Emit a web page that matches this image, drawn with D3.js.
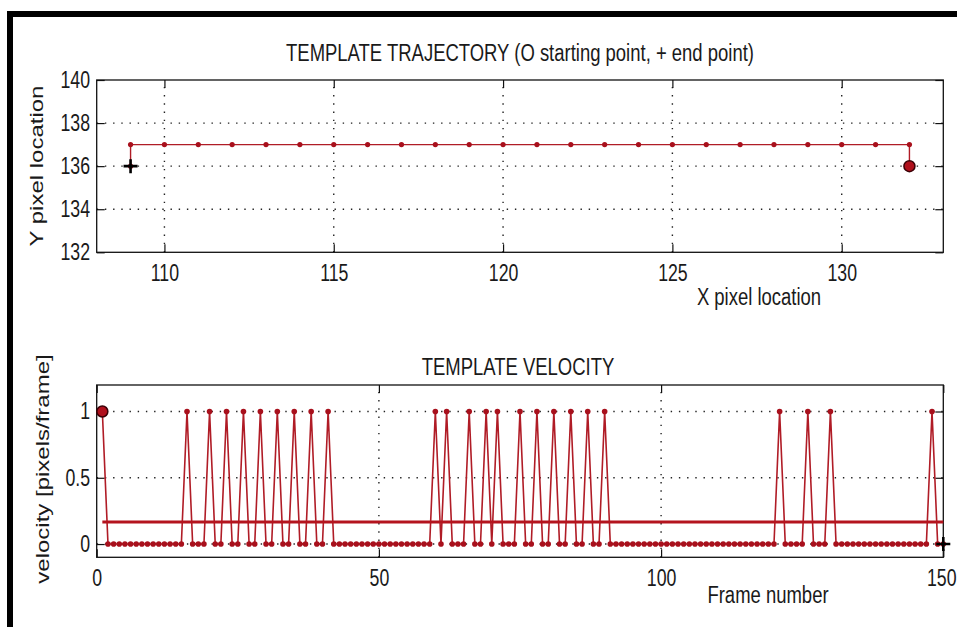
<!DOCTYPE html>
<html>
<head>
<meta charset="utf-8">
<script src="https://cdn.jsdelivr.net/npm/d3@7"></script>
<style>
  body { margin: 0; background: #fff; }
  text { font-family: "Liberation Sans", Arial, sans-serif; fill: #1a1a1a; }
</style>
</head>
<body>
<div id="container"></div>
<script>
// trajectory in pixel coords (starts at the right, ends at the left)
const trajX = [132, 132, 131, 130, 129, 128, 127, 126, 125, 124, 123, 122, 121,
               120, 119, 118, 117, 116, 115, 114, 113, 112, 111, 110, 109, 109]
const trajY = [136, 137, 137, 137, 137, 137, 137, 137, 137, 137, 137, 137, 137,
               137, 137, 137, 137, 137, 137, 137, 137, 137, 137, 137, 137, 136]
const trajXTicks = [110, 115, 120, 125, 130]
const trajYTicks = [132, 134, 136, 138, 140]

// velocity per frame, frames 1..150
const velocity = [
  1, 0, 0, 0, 0, 0, 0, 0, 0, 0,
  0, 0, 0, 0, 0, 1, 0, 0, 0, 1,
  0, 0, 1, 0, 0, 1, 0, 0, 1, 0,
  0, 1, 0, 0, 1, 0, 0, 1, 0, 0,
  1, 0, 0, 0, 0, 0, 0, 0, 0, 0,
  0, 0, 0, 0, 0, 0, 0, 0, 0, 1,
  0, 1, 0, 0, 0, 1, 0, 0, 1, 0,
  1, 0, 0, 0, 1, 0, 0, 1, 0, 0,
  1, 0, 0, 1, 0, 0, 1, 0, 0, 1,
  0, 0, 0, 0, 0, 0, 0, 0, 0, 0,
  0, 0, 0, 0, 0, 0, 0, 0, 0, 0,
  0, 0, 0, 0, 0, 0, 0, 0, 0, 0,
  1, 0, 0, 0, 0, 1, 0, 0, 0, 1,
  0, 0, 0, 0, 0, 0, 0, 0, 0, 0,
  0, 0, 0, 0, 0, 0, 0, 1, 0, 0
]
const velXTicks = [0, 50, 100, 150]
const velYTicks = [0, 0.5, 1]

const width = 957, height = 627
const squeeze = 0.77   // the original figure's text is narrow
const lineColor = "#b01c26", dotColor = "#a8101c"

const svg = d3.select("div#container").append("svg")
    .attr("width", width)
    .attr("height", height)

svg.append("rect").attr("width", width).attr("height", height).attr("fill", "#fff")

// black frame of the screenshot
svg.append("rect").attr("x", 7).attr("y", 11).attr("width", width - 7).attr("height", 6).attr("fill", "#000")
svg.append("rect").attr("x", 7).attr("y", 11).attr("width", 6).attr("height", height - 11).attr("fill", "#000")

function label(x, y, str, size, rotate) {
    svg.append("text")
        .attr("transform", rotate
            ? `translate(${x},${y}) rotate(-90) scale(1,${squeeze})`
            : `translate(${x},${y}) scale(${squeeze},1)`)
        .attr("text-anchor", "middle")
        .style("font-size", size + "px")
        .text(str)
}

function panel(x, y, xTicks, yTicks, yFormat) {
    const g = svg.append("g")
    const [x0, x1] = x.range(), [y0, y1] = y.range()

    // dotted grid on inner ticks
    g.selectAll(".gx").data(xTicks.filter(d => d > x.domain()[0] && d < x.domain()[1]))
        .join("line")
        .attr("x1", x).attr("x2", x).attr("y1", y0).attr("y2", y1)
    g.selectAll(".gy").data(yTicks.filter(d => d > y.domain()[0] && d < y.domain()[1]))
        .join("line")
        .attr("y1", y).attr("y2", y).attr("x1", x0).attr("x2", x1)
    g.selectAll("line")
        .attr("stroke", "#222")
        .attr("stroke-width", 1.4)
        .attr("stroke-dasharray", "1.4,6.8")

    const fix = a => a.call(s => s.select(".domain").remove())
        .attr("color", "#111")
        .call(s => s.selectAll(".tick line").attr("stroke-width", 1.2))

    svg.append("g")
        .attr("transform", `translate(0,${y0})`)
        .call(d3.axisBottom(x).tickValues(xTicks).tickSizeInner(-8).tickSizeOuter(0).tickPadding(12))
        .call(fix)
        .call(s => s.selectAll(".tick text")
            .attr("transform", `scale(${squeeze},1)`)
            .style("font-size", "23px"))
        // last label sits at the window edge
        .call(s => s.selectAll(".tick text").filter(d => x(d) > width - 20)
            .attr("text-anchor", "end").attr("x", (width - 1 - x1) / squeeze))
    svg.append("g")
        .attr("transform", `translate(0,${y1})`)
        .call(d3.axisTop(x).tickValues(xTicks).tickSizeInner(-8).tickSizeOuter(0).tickFormat(""))
        .call(fix)
    svg.append("g")
        .attr("transform", `translate(${x0},0)`)
        .call(d3.axisLeft(y).tickValues(yTicks).tickSizeInner(-8).tickSizeOuter(0).tickPadding(8.7).tickFormat(yFormat))
        .call(fix)
        .call(s => s.selectAll(".tick text")
            .attr("transform", `scale(${squeeze},1)`)
            .style("font-size", "23px"))
    svg.append("g")
        .attr("transform", `translate(${x1},0)`)
        .call(d3.axisRight(y).tickValues(yTicks).tickSizeInner(-8).tickSizeOuter(0).tickFormat(""))
        .call(fix)

    svg.append("rect")
        .attr("x", x0).attr("y", y1)
        .attr("width", x1 - x0).attr("height", y0 - y1)
        .attr("fill", "none").attr("stroke", "#111").attr("stroke-width", 1.3)
}

function startMark(cx, cy) {
    svg.append("circle").attr("cx", cx).attr("cy", cy).attr("r", 5.5)
        .attr("fill", "#b0101c").attr("stroke", "#3a0006").attr("stroke-width", 1.5)
}

function endMark(cx, cy) {
    svg.append("path")
        .attr("d", `M${cx - 7},${cy}H${cx + 7}M${cx},${cy - 7}V${cy + 7}`)
        .attr("stroke", "#000").attr("stroke-width", 2.6)
}

// ---- trajectory
const xT = d3.scaleLinear().domain([108, 133]).range([96.7, 943.3])
const yT = d3.scaleLinear().domain([132, 140]).range([252.3, 80])
panel(xT, yT, trajXTicks, trajYTicks, d3.format("d"))

const traj = trajX.map((d, i) => [d, trajY[i]])
svg.append("path")
    .datum(traj)
    .attr("d", d3.line().x(d => xT(d[0])).y(d => yT(d[1])))
    .attr("fill", "none").attr("stroke", lineColor).attr("stroke-width", 1.4)
svg.append("g").selectAll("circle").data(traj).join("circle")
    .attr("cx", d => xT(d[0])).attr("cy", d => yT(d[1])).attr("r", 2.6)
    .attr("fill", dotColor)
startMark(xT(traj[0][0]), yT(traj[0][1]))
endMark(xT(traj[traj.length - 1][0]), yT(traj[traj.length - 1][1]))

label(520, 61, "TEMPLATE TRAJECTORY (O starting point, + end point)", 24)
label(759, 305, "X pixel location", 24)
label(43, 166, "Y pixel location", 24, true)

// ---- velocity
const frames = d3.range(1, velocity.length + 1)
const vel = frames.map((f, i) => [f, velocity[i]])
const xV = d3.scaleLinear().domain([0, 150]).range([96.7, 943.3])
const yV = d3.scaleLinear().domain([-0.1, 1.2]).range([557.3, 385])
panel(xV, yV, velXTicks, velYTicks, d3.format("~g"))

svg.append("path")
    .datum(vel)
    .attr("d", d3.line().x(d => xV(d[0])).y(d => yV(d[1])))
    .attr("fill", "none").attr("stroke", lineColor).attr("stroke-width", 1.6)
svg.append("g").selectAll("circle").data(vel).join("circle")
    .attr("cx", d => xV(d[0])).attr("cy", d => yV(d[1])).attr("r", 2.8)
    .attr("fill", dotColor)

// mean velocity
const meanV = d3.mean(velocity)
svg.append("line")
    .attr("x1", xV(frames[0])).attr("x2", xV(frames[frames.length - 1]))
    .attr("y1", yV(meanV)).attr("y2", yV(meanV))
    .attr("stroke", "#b4141e").attr("stroke-width", 3)

startMark(xV(vel[0][0]), yV(vel[0][1]))
endMark(xV(vel[vel.length - 1][0]), yV(vel[vel.length - 1][1]))

label(518, 375, "TEMPLATE VELOCITY", 24)
label(768, 602.7, "Frame number", 24)
label(49, 469, "velocity [pixels/frame]", 24, true)
</script>
</body>
</html>
